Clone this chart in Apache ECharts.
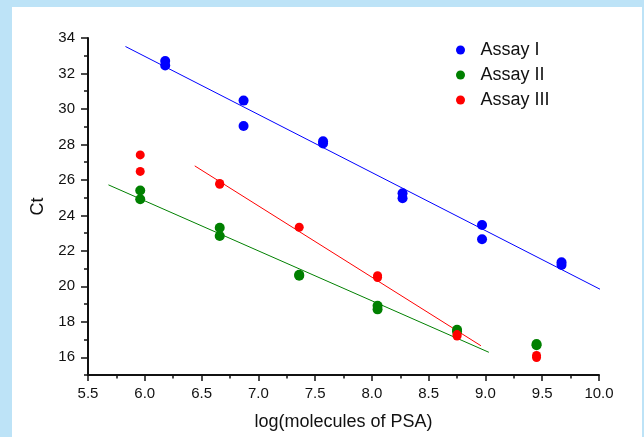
<!DOCTYPE html>
<html>
	<head>
		<meta charset="utf-8">
		<title>Ct vs log(molecules of PSA)</title>
		<script src="https://cdn.jsdelivr.net/npm/echarts@6/dist/echarts.min.js"></script>
		<style>
			html, body {
				margin: 0;
				padding: 0;
				width: 644px;
				height: 437px;
				background: #bde3f7;
				overflow: hidden;
			}

			#panel {
				position: absolute;
				left: 12px;
				top: 7px;
				width: 630px;
				height: 430px;
				background: #fff;
			}

			#chart {
				position: absolute;
				left: 0;
				top: 0;
				width: 644px;
				height: 437px;
			}
		</style>
	</head>
	<body>
		<div id="panel"></div>
		<div id="chart"></div>
		<script>
			// 读图得到的数据
			let assay1X = [6.18, 6.18, 6.87, 6.87, 7.57, 7.57, 8.27, 8.27, 8.97, 8.97, 9.67, 9.67]
			let assay1Y = [32.7, 32.45, 30.47, 29.04, 28.18, 28.05, 25.25, 24.97, 23.46, 22.65, 21.35, 21.2]
			let assay2X = [5.96, 5.96, 6.66, 6.66, 7.36, 7.36, 8.05, 8.05, 8.75, 8.75, 9.45, 9.45]
			let assay2Y = [25.4, 24.91, 23.3, 22.84, 20.65, 20.6, 18.9, 18.7, 17.55, 17.45, 16.75, 16.68]
			let assay3X = [5.96, 5.96, 6.66, 6.66, 7.36, 8.05, 8.05, 8.75, 8.75, 9.45, 9.45]
			let assay3Y = [27.41, 26.48, 25.8, 25.75, 23.33, 20.6, 20.5, 17.28, 17.2, 16.1, 15.98]
			// 拟合线的两个端点
			let fit1 = [[5.83, 33.52], [10.02, 19.8]]
			let fit2 = [[5.68, 25.72], [9.03, 16.28]]
			let fit3 = [[6.44, 26.79], [8.96, 16.65]]
			let names = ['Assay I', 'Assay II', 'Assay III']
			let colors = ['#0000ff', '#008000', '#ff0000']
			let yLabels = [16, 18, 20, 22, 24, 26, 28, 30, 32, 34]
			let yMinor = [15, 17, 19, 21, 23, 25, 27, 29, 31, 33]

			function pairs(xs, ys) {
				var out = []
				for (var i = 0; i < xs.length; i++) {
					out.push([xs[i], ys[i]])
				}
				return out
			}

			var myChart = echarts.init(document.getElementById('chart'))
			var font = 'Liberation Sans, Arial, sans-serif'
			var option = {
				animation: false,
				backgroundColor: 'transparent',
				grid: {
					left: 88,
					right: 45,
					top: 38,
					bottom: 62
				},
				legend: {
					orient: 'vertical',
					left: 451,
					top: 36,
					data: names,
					icon: 'circle',
					itemWidth: 30,
					itemHeight: 9,
					itemGap: 7,
					textStyle: {
						fontFamily: font,
						fontSize: 18,
						color: '#111'
					}
				},
				xAxis: {
					type: 'value',
					min: 5.5,
					max: 10,
					interval: 0.5,
					name: 'log(molecules of PSA)',
					nameLocation: 'middle',
					nameGap: 38,
					nameTextStyle: {
						fontFamily: font,
						fontSize: 18,
						color: '#111'
					},
					axisLine: {
						lineStyle: {
							color: '#111',
							width: 2
						}
					},
					axisTick: {
						length: 6,
						lineStyle: {
							color: '#111',
							width: 1.5
						}
					},
					minorTick: {
						show: true,
						splitNumber: 2,
						length: 3.5,
						lineStyle: {
							color: '#111',
							width: 1.5
						}
					},
					axisLabel: {
						margin: 11,
						fontFamily: font,
						fontSize: 15,
						color: '#111',
						formatter: function(v) {
							return v.toFixed(1)
						}
					},
					splitLine: {
						show: false
					}
				},
				yAxis: [{
					type: 'value',
					min: 15,
					max: 34,
					name: 'Ct',
					nameLocation: 'middle',
					nameGap: 41,
					nameTextStyle: {
						fontFamily: font,
						fontSize: 18,
						color: '#111'
					},
					axisLine: {
						show: true,
						lineStyle: {
							color: '#111',
							width: 2
						}
					},
					axisTick: {
						show: true,
						length: 7,
						customValues: yLabels,
						lineStyle: {
							color: '#111',
							width: 1.5
						}
					},
					axisLabel: {
						margin: 13,
						fontFamily: font,
						fontSize: 15,
						color: '#111',
						customValues: yLabels
					},
					splitLine: {
						show: false
					}
				}, {
					// 只画奇数位置的短刻度
					type: 'value',
					position: 'left',
					min: 15,
					max: 34,
					axisLine: {
						show: false
					},
					axisTick: {
						show: true,
						length: 4,
						customValues: yMinor,
						lineStyle: {
							color: '#111',
							width: 1.5
						}
					},
					axisLabel: {
						show: false
					},
					splitLine: {
						show: false
					}
				}],
				series: []
			}

			var fits = [fit1, fit2, fit3]
			for (var j = 0; j < 3; j++) {
				option.series.push({
					type: 'line',
					name: names[j] + ' fit',
					data: fits[j],
					showSymbol: false,
					silent: true,
					z: 1,
					lineStyle: {
						color: colors[j],
						width: 1
					}
				})
			}
			var pts = [pairs(assay1X, assay1Y), pairs(assay2X, assay2Y), pairs(assay3X, assay3Y)]
			var sizes = [10, 10, 9]
			for (var k = 0; k < 3; k++) {
				option.series.push({
					type: 'scatter',
					name: names[k],
					data: pts[k],
					symbol: 'circle',
					symbolSize: sizes[k],
					z: 3,
					itemStyle: {
						color: colors[k],
						opacity: 1
					}
				})
			}

			option && myChart.setOption(option);
		</script>
	</body>
</html>
